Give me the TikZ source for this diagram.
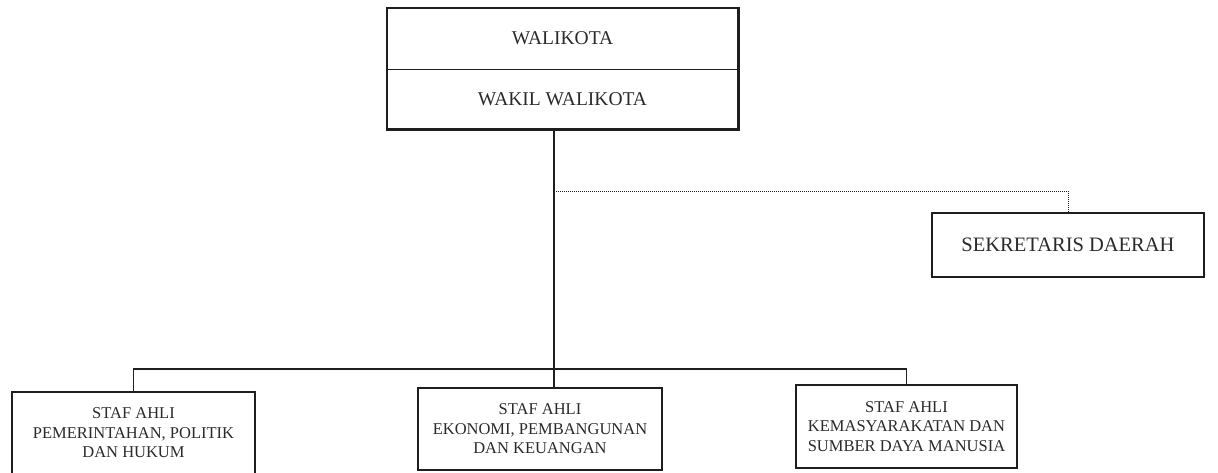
\documentclass[tikz,border=0pt]{standalone}
\usepackage{fontspec}
\setmainfont{Liberation Serif}
\definecolor{ink}{HTML}{1E1E1E}
\definecolor{txt}{HTML}{2A2A2A}
\tikzset{
  orgbox/.style={draw=ink, line width=2.6pt, inner sep=0pt, align=center, text=txt},
  bigtext/.style={font=\fontsize{19.5}{23}\selectfont},
  sektext/.style={font=\fontsize{20.5}{24}\selectfont},
  smalltext/.style={font=\fontsize{16.5}{19.5}\selectfont},
  conn/.style={draw=ink, line width=1.3pt},
  dotconn/.style={draw=ink, line width=1pt, dash pattern=on 1pt off 1pt},
}
\begin{document}
\begin{tikzpicture}[x=1pt,y=-1pt]
\useasboundingbox (0,0) rectangle (1218,472);
% top box
\node[inner sep=0pt, minimum width=351pt, minimum height=61pt, text=txt, bigtext] (walikota) at (562.5,38.5) {WALIKOTA};
\node[inner sep=0pt, minimum width=351pt, minimum height=60pt, text=txt, bigtext] (wakil) at (562.5,99) {WAKIL WALIKOTA};
\draw[draw=ink, line width=2.6pt] (walikota.north west) rectangle (wakil.south east);
\draw[conn] (walikota.south west) -- (walikota.south east);
% sekretaris
\node[orgbox, sektext, minimum width=272pt, minimum height=64pt] (sek) at (1068,245) {SEKRETARIS DAERAH};
% staf ahli
\node[orgbox, smalltext, minimum width=243pt, minimum height=82pt] (s1) at (133.5,433) {STAF AHLI\\PEMERINTAHAN, POLITIK\\DAN HUKUM};
\node[orgbox, smalltext, minimum width=244pt, minimum height=82pt] (s2) at (540,429) {STAF AHLI\\EKONOMI, PEMBANGUNAN\\DAN KEUANGAN};
\node[orgbox, smalltext, minimum width=221pt, minimum height=83pt] (s3) at (906.5,426.5) {STAF AHLI\\KEMASYARAKATAN DAN\\SUMBER DAYA MANUSIA};
% connectors
\coordinate (main) at (554,130);
\coordinate (bar) at (554,369);
\coordinate (dj) at (554,191);
\draw[conn] (main) -- (main |- s2.north);
\draw[conn] (s1.north) |- (bar) -| (s3.north);
\draw[dotconn] (dj) -| (sek.north);
\end{tikzpicture}
\end{document}
